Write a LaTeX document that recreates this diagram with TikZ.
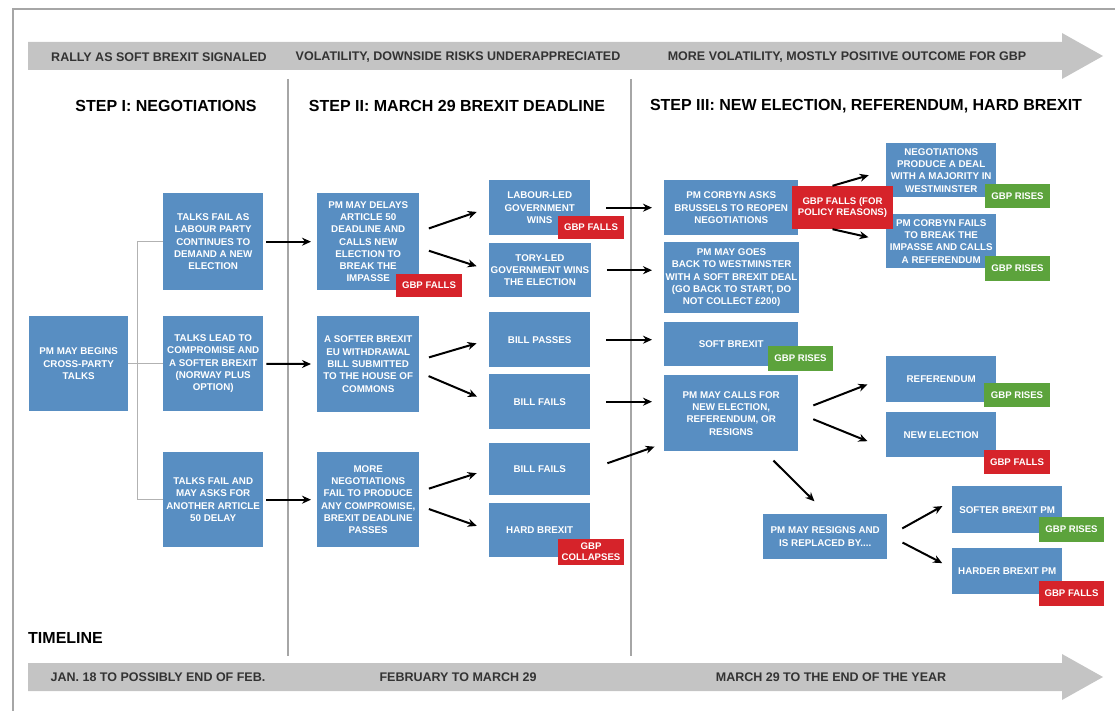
\documentclass[tikz,border=0pt]{standalone}
\usepackage{fontspec}
\setmainfont{Liberation Sans}
\usetikzlibrary{arrows.meta}
\definecolor{boxblue}{RGB}{88,142,194}
\definecolor{gbpred}{RGB}{214,35,42}
\definecolor{gbpgreen}{RGB}{92,163,60}
\definecolor{bandgray}{RGB}{196,196,196}
\definecolor{inkgray}{RGB}{51,51,51}

\begin{document}
\begin{tikzpicture}[>={Stealth[length=9pt,width=8pt]}, x=1pt, y=-1pt,
  stepbox/.style={fill=boxblue, text=white, font=\bfseries\fontsize{9.8}{12.3}\selectfont, align=center, inner sep=1.5pt, anchor=north west},
  gbpfalls/.style={fill=gbpred, text=white, font=\bfseries\fontsize{9.6}{11}\selectfont, align=center, inner sep=1pt},
  gbprises/.style={gbpfalls, fill=gbpgreen},
  band/.style={fill=bandgray},
  bandtext/.style={text=inkgray, font=\bfseries\fontsize{12.5}{14}\selectfont},
  steptitle/.style={text=black, font=\bfseries\fontsize{16}{18}\selectfont},
  tree/.style={draw=gray!60, line width=1pt},
  divider/.style={draw=gray!70, line width=1.2pt},
  flow/.style={->, line width=2pt}]
  \useasboundingbox (0,0) rectangle (1115,711);
  \draw[gray!70, line width=1.5pt] (13,711) -- (13,9) -- (1115,9);

  \fill[band] (28,42) -- (1062,42) -- (1062,33) -- (1103,56) -- (1062,79) -- (1062,70) -- (28,70) -- cycle;
  \fill[band] (28,663) -- (1062,663) -- (1062,654) -- (1103,677) -- (1062,700) -- (1062,691) -- (28,691) -- cycle;
  \node[bandtext] (rally) at (159,57) {RALLY AS SOFT BREXIT SIGNALED};
  \node[bandtext] (volatility) at (458,57) {VOLATILITY, DOWNSIDE RISKS UNDERAPPRECIATED};
  \node[bandtext] (morevol) at (847,57) {MORE VOLATILITY, MOSTLY POSITIVE OUTCOME FOR GBP};
  \node[bandtext] (jan) at (158,677) {JAN. 18 TO POSSIBLY END OF FEB.};
  \node[bandtext] (feb) at (458,677) {FEBRUARY TO MARCH 29};
  \node[bandtext] (mar) at (831,677) {MARCH 29 TO THE END OF THE YEAR};
  \node[steptitle, anchor=west, inner sep=0pt] (timeline) at (28,638) {TIMELINE};

  \draw[divider] (288,79) -- (288,656);
  \draw[divider] (631,79) -- (631,656);
  \node[steptitle] (stepi) at (166,106) {STEP I: NEGOTIATIONS};
  \node[steptitle] (stepii) at (457,106) {STEP II: MARCH 29 BREXIT DEADLINE};
  \node[steptitle] (stepiii) at (866,106) {STEP III: NEW ELECTION, REFERENDUM, HARD BREXIT};

  \node[stepbox, minimum width=99, minimum height=95] (begin) at (29,316) {PM MAY BEGINS\\CROSS-PARTY\\TALKS};
  \node[stepbox, minimum width=100, minimum height=97] (t1) at (163,193) {TALKS FAIL AS\\LABOUR PARTY\\CONTINUES TO\\DEMAND A NEW\\ELECTION};
  \node[stepbox, minimum width=100, minimum height=95] (t2) at (163,316) {TALKS LEAD TO\\COMPROMISE AND\\A SOFTER BREXIT\\(NORWAY PLUS\\OPTION)};
  \node[stepbox, minimum width=100, minimum height=95] (t3) at (163,452) {TALKS FAIL AND\\MAY ASKS FOR\\ANOTHER ARTICLE\\50 DELAY};

  \node[stepbox, minimum width=102, minimum height=97] (d1) at (317,193) {PM MAY DELAYS\\ARTICLE 50\\DEADLINE AND\\CALLS NEW\\ELECTION TO\\BREAK THE\\IMPASSE};
  \node[stepbox, minimum width=102, minimum height=96] (d2) at (317,316) {A SOFTER BREXIT\\EU WITHDRAWAL\\BILL SUBMITTED\\TO THE HOUSE OF\\COMMONS};
  \node[stepbox, minimum width=102, minimum height=95] (d3) at (317,452) {MORE\\NEGOTIATIONS\\FAIL TO PRODUCE\\ANY COMPROMISE,\\BREXIT DEADLINE\\PASSES};

  \node[stepbox, minimum width=101, minimum height=55] (e1) at (489,180) {LABOUR-LED\\GOVERNMENT\\WINS};
  \node[stepbox, minimum width=101, minimum height=54] (e2) at (489,243) {TORY-LED\\GOVERNMENT WINS\\THE ELECTION};
  \node[stepbox, minimum width=101, minimum height=55] (e3) at (489,312) {BILL PASSES};
  \node[stepbox, minimum width=101, minimum height=55] (e4) at (489,374) {BILL FAILS};
  \node[stepbox, minimum width=101, minimum height=52] (e5) at (489,443) {BILL FAILS};
  \node[stepbox, minimum width=101, minimum height=54] (e6) at (489,503) {HARD BREXIT};

  \node[stepbox, minimum width=134, minimum height=55] (f1) at (664,180) {PM CORBYN ASKS\\BRUSSELS TO REOPEN\\NEGOTIATIONS};
  \node[stepbox, minimum width=134, minimum height=71] (f2) at (664,242) {PM MAY GOES\\BACK TO WESTMINSTER\\WITH A SOFT BREXIT DEAL\\(GO BACK TO START, DO\\NOT COLLECT £200)};
  \node[stepbox, minimum width=134, minimum height=44] (f3) at (664,322) {SOFT BREXIT};
  \node[stepbox, minimum width=134, minimum height=76] (f4) at (664,375) {PM MAY CALLS FOR\\NEW ELECTION,\\REFERENDUM, OR\\RESIGNS};

  \node[stepbox, minimum width=110, minimum height=54] (g1) at (886,143) {NEGOTIATIONS\\PRODUCE A DEAL\\WITH A MAJORITY IN\\WESTMINSTER};
  \node[stepbox, minimum width=110, minimum height=54] (g2) at (886,214) {PM CORBYN FAILS\\TO BREAK THE\\IMPASSE AND CALLS\\A REFERENDUM};
  \node[stepbox, minimum width=110, minimum height=46] (g3) at (886,356) {REFERENDUM};
  \node[stepbox, minimum width=110, minimum height=45] (g4) at (886,412) {NEW ELECTION};

  \node[stepbox, minimum width=124, minimum height=45] (resign) at (763,514) {PM MAY RESIGNS AND\\IS REPLACED BY....};
  \node[stepbox, minimum width=110, minimum height=47] (i1) at (952,486) {SOFTER BREXIT PM};
  \node[stepbox, minimum width=110, minimum height=46] (i2) at (952,548) {HARDER BREXIT PM};

  \draw[tree] (begin.east) -- (t2.west);
  \draw[tree] (t1.west) -| ([xshift=9]begin.east) |- (t3.west);

  \draw[flow, shorten <=3pt, shorten >=6pt] (t1) -- (d1);
  \draw[flow, shorten <=3pt, shorten >=6pt] (t2) -- (d2);
  \draw[flow, shorten <=3pt, shorten >=6pt] (t3) -- (d3);

  \draw[flow, shorten <=10pt, shorten >=13pt] ([yshift=10]d1.east) -- (e1.west);
  \draw[flow, shorten <=10pt, shorten >=13pt] ([yshift=-6]d1.east) -- (e2.west);
  \draw[flow, shorten <=10pt, shorten >=13pt] ([yshift=4]d2.east) -- (e3.west);
  \draw[flow, shorten <=10pt, shorten >=13pt] ([yshift=-8]d2.east) -- (e4.west);
  \draw[flow, shorten <=10pt, shorten >=13pt] ([yshift=8]d3.east) -- (e5.west);
  \draw[flow, shorten <=10pt, shorten >=13pt] ([yshift=-6]d3.east) -- (e6.west);

  \draw[flow, shorten <=16pt, shorten >=12pt] (e1.east) -- (e1.east -| f1.west);
  \draw[flow, shorten <=16pt, shorten >=12pt] (e2.east) -- (e2.east -| f2.west);
  \draw[flow, shorten <=16pt, shorten >=12pt] (e3.east) -- (e3.east -| f3.west);
  \draw[flow, shorten <=16pt, shorten >=12pt] (e4.east) -- (e4.east -| f4.west);
  \draw[flow, shorten <=18pt, shorten >=10pt] (e5.east) -- ([yshift=8]f4.south west);

  \node[gbpfalls, minimum width=101, minimum height=43] (f1b) at (842.5,207.5) {GBP FALLS (FOR\\POLICY REASONS)};
  \draw[flow, shorten >=18pt] ([xshift=-10]f1b.north) -- (g1.west);
  \draw[flow, shorten >=18pt] ([xshift=-10]f1b.south) -- (g2.west);

  \draw[flow, shorten <=16pt, shorten >=20pt] ([yshift=2]f4.east) -- ([yshift=2]g3.west);
  \draw[flow, shorten <=16pt, shorten >=20pt] (f4.east) -- ([yshift=-14]g4.west);
  \draw[flow, shorten <=13pt, shorten >=18pt] ([xshift=33]f4.south) -- ([xshift=2]resign.north);
  \draw[flow, shorten <=17pt, shorten >=11pt] (resign.east) -- ([yshift=9]i1.west);
  \draw[flow, shorten <=17pt, shorten >=11pt] ([yshift=2]resign.east) -- ([yshift=3]i2.west);

  \node[gbpfalls, minimum width=66, minimum height=23] (d1b) at (429,285.5) {GBP FALLS};
  \node[gbpfalls, minimum width=66, minimum height=23] (e1b) at (591,227.5) {GBP FALLS};
  \node[gbpfalls, minimum width=66, minimum height=26] (e6b) at (591,552) {GBP\\COLLAPSES};
  \node[gbprises, minimum width=65, minimum height=25] (f3b) at (800.5,358.5) {GBP RISES};
  \node[gbprises, minimum width=65, minimum height=24] (g1b) at (1017.5,196) {GBP RISES};
  \node[gbprises, minimum width=65, minimum height=25] (g2b) at (1017.5,268.5) {GBP RISES};
  \node[gbprises, minimum width=66, minimum height=24] (g3b) at (1017,395) {GBP RISES};
  \node[gbpfalls, minimum width=66, minimum height=24] (g4b) at (1017,462) {GBP FALLS};
  \node[gbprises, minimum width=65, minimum height=25] (i1b) at (1071.5,529.5) {GBP RISES};
  \node[gbpfalls, minimum width=65, minimum height=25] (i2b) at (1071.5,593.5) {GBP FALLS};
\end{tikzpicture}
\end{document}
